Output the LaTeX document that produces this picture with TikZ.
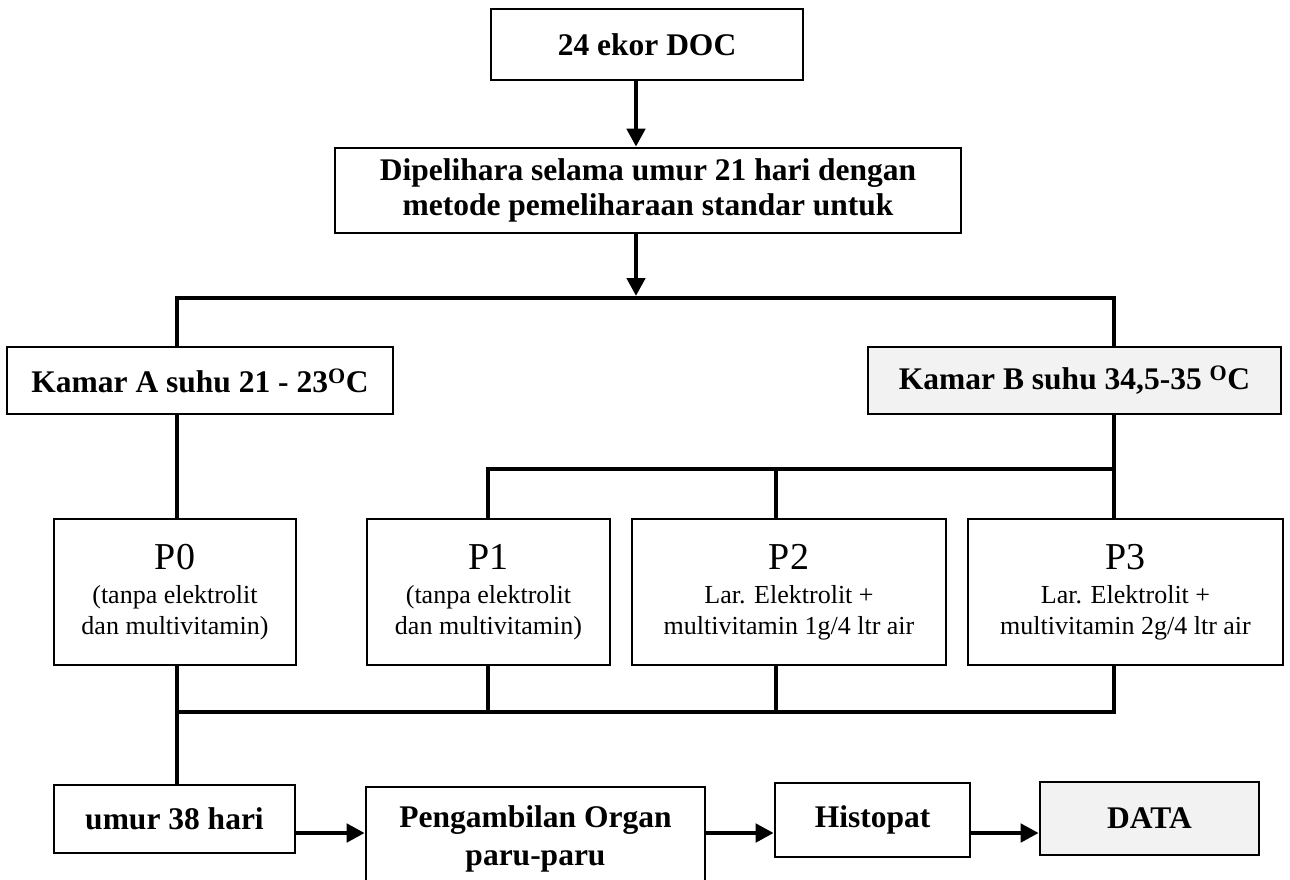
\documentclass[tikz,border=0pt]{standalone}
\usepackage{fontspec}
\setmainfont{Liberation Serif}
\usetikzlibrary{arrows.meta}

\tikzset{
  box/.style={draw, line width=2.6pt, align=center, inner sep=0pt,
    font=\fontsize{31.5}{35}\selectfont\bfseries},
  shaded/.style={box, fill=gray!10},
  pbox/.style={draw, line width=2.6pt, align=center, inner sep=0pt,
    minimum height=146, font=\fontsize{26}{31}\selectfont},
  wire/.style={line width=4.6pt},
  flow/.style={wire, ->},
}
\newcommand{\plabel}[1]{{\fontsize{38}{40}\selectfont #1}}

\begin{document}
\begin{tikzpicture}[x=1pt, y=-1pt, >={Triangle[length=18pt, width=18pt]}]
\useasboundingbox (0,0) rectangle (1290,879);

% boxes
\node [box, minimum width=312, minimum height=71, name=doc] at (647,44.5) {24 ekor DOC};
\node [box, minimum width=626, minimum height=85, name=pelihara] at (648,190.5)
  {Dipelihara selama umur 21 hari dengan\\ metode pemeliharaan standar untuk};
\node [box, minimum width=386, minimum height=67, name=kamarA] at (200,380.5)
  {Kamar A suhu 21 - 23\textsuperscript{O}C};
\node [shaded, minimum width=413, minimum height=67, name=kamarB] at (1074.5,380.5)
  {Kamar B suhu 34,5-35 \textsuperscript{O}C};

\node [pbox, minimum width=242, name=p0] at (175,592)
  {\plabel{P0}\\[3pt] (tanpa elektrolit\\ dan multivitamin)};
\node [pbox, minimum width=243, name=p1] at (488.5,592)
  {\plabel{P1}\\[3pt] (tanpa elektrolit\\ dan multivitamin)};
\node [pbox, minimum width=314, name=p2] at (789,592)
  {\plabel{P2}\\[3pt] Lar. Elektrolit +\\ multivitamin 1g/4 ltr air};
\node [pbox, minimum width=315, name=p3] at (1125.5,592)
  {\plabel{P3}\\[3pt] Lar. Elektrolit +\\ multivitamin 2g/4 ltr air};

\node [box, minimum width=241, minimum height=68, name=umur] at (174.5,819) {umur 38 hari};
\node [box, minimum width=339, minimum height=103, name=organ] at (535.5,838.5)
  {Pengambilan Organ\\[3pt] paru-paru};
\node [box, minimum width=195, minimum height=74, name=histo] at (872.5,820) {Histopat};
\node [shaded, minimum width=219, minimum height=73, name=data] at (1149.5,818.5) {DATA};

% connectors
\coordinate (spine) at (636,296);
\coordinate (colA) at (177,298);
\coordinate (colB) at (1114,298);
\coordinate (busP) at (488,469);
\coordinate (colP2) at (776,469);
\coordinate (busQ) at (177,712);
\coordinate (row) at (0,833);

\draw [flow] (doc.south -| spine) -- (pelihara.north -| spine);
\draw [flow] (pelihara.south -| spine) -- (spine);
\draw [wire] (kamarA.north -| colA) |- (colB) -- (kamarB.north -| colB);

\draw [wire] (kamarA.south -| colA) -- (p0.north -| colA);
\draw [wire] (kamarB.south -| colB) |- (busP) -- (p1.north -| busP);
\draw [wire] (colP2) -- (p2.north -| colP2);
\draw [wire] (colB |- busP) -- (p3.north -| colB);

\draw [wire] (p0.south -| colA) -- (umur.north -| colA);
\draw [wire] (p3.south -| colB) |- (busQ);
\draw [wire] (p1.south -| busP) -- (busP |- busQ);
\draw [wire] (p2.south -| colP2) -- (colP2 |- busQ);

\draw [flow] (umur.east |- row) -- (organ.west |- row);
\draw [flow] (organ.east |- row) -- (histo.west |- row);
\draw [flow] (histo.east |- row) -- (data.west |- row);
\end{tikzpicture}
\end{document}
